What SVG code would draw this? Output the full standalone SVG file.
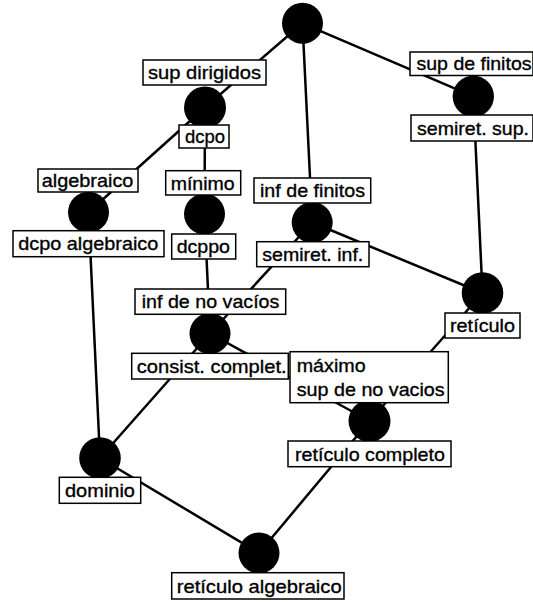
<svg xmlns="http://www.w3.org/2000/svg" width="533" height="602" viewBox="0 0 533 602">
  <style>
    .edge { stroke: #000; stroke-width: 2.5; fill: none; stroke-linecap: round; }
    .dot { fill: #000; }
    .box { fill: #fff; stroke: #000; stroke-width: 1.5; }
    .lbl { font-family: "Liberation Sans", Arial, sans-serif; font-size: 19px; fill: #000; stroke: #000; stroke-width: 0.35; }
  </style>
  <rect width="533" height="602" fill="#fff"/>

  <!-- connectors between node centres -->
  <g id="connectors">
    <line class="edge" x1="302.5" y1="23.3" x2="205" y2="107.5"/>
    <line class="edge" x1="302.5" y1="23.3" x2="312.2" y2="222.5"/>
    <line class="edge" x1="302.5" y1="23.3" x2="473.3" y2="96.3"/>
    <line class="edge" x1="205" y1="107.5" x2="88.5" y2="212.3"/>
    <line class="edge" x1="205" y1="107.5" x2="204.5" y2="214"/>
    <line class="edge" x1="473.3" y1="96.3" x2="482.5" y2="293"/>
    <line class="edge" x1="312.2" y1="222.5" x2="482.5" y2="293"/>
    <line class="edge" x1="312.2" y1="222.5" x2="210" y2="333.5"/>
    <line class="edge" x1="88.5" y1="212.3" x2="100" y2="458"/>
    <line class="edge" x1="204.5" y1="214" x2="210" y2="333.5"/>
    <line class="edge" x1="210" y1="333.5" x2="100" y2="458"/>
    <line class="edge" x1="210" y1="333.5" x2="369.5" y2="421"/>
    <line class="edge" x1="482.5" y1="293" x2="369.5" y2="421"/>
    <line class="edge" x1="100" y1="458" x2="259" y2="553"/>
    <line class="edge" x1="369.5" y1="421" x2="259" y2="553"/>
  </g>

  <g id="top">
    <circle class="dot" cx="302.5" cy="23.3" r="20.5"/>
  </g>

  <g id="dcpo">
    <circle class="dot" cx="205" cy="107.5" r="21"/>
    <rect class="box" x="143" y="60" width="123" height="25"/>
    <text class="lbl" x="148" y="79" textLength="113" lengthAdjust="spacingAndGlyphs">sup dirigidos</text>
    <rect class="box" x="179" y="125" width="50" height="23"/>
    <text class="lbl" x="185" y="143" textLength="40" lengthAdjust="spacingAndGlyphs">dcpo</text>
  </g>

  <g id="semiret-sup">
    <circle class="dot" cx="473.3" cy="96.3" r="20.7"/>
    <rect class="box" x="410" y="52" width="123" height="23.5"/>
    <text class="lbl" x="416.5" y="70.3" textLength="115" lengthAdjust="spacingAndGlyphs">sup de finitos</text>
    <rect class="box" x="411" y="115" width="122" height="26"/>
    <text class="lbl" x="417" y="134.7" textLength="112" lengthAdjust="spacingAndGlyphs">semiret. sup.</text>
  </g>

  <g id="dcpo-algebraico">
    <circle class="dot" cx="88.5" cy="212.3" r="20.5"/>
    <rect class="box" x="38" y="169" width="100" height="23"/>
    <text class="lbl" x="41.7" y="187" textLength="91.7" lengthAdjust="spacingAndGlyphs">algebraico</text>
    <rect class="box" x="13" y="230.7" width="151" height="26"/>
    <text class="lbl" x="18.3" y="250.4" textLength="140" lengthAdjust="spacingAndGlyphs">dcpo algebraico</text>
  </g>

  <g id="dcppo">
    <circle class="dot" cx="204.5" cy="214" r="20.5"/>
    <rect class="box" x="165.7" y="170.7" width="75" height="24.3"/>
    <text class="lbl" x="170.7" y="189.5" textLength="64" lengthAdjust="spacingAndGlyphs">mínimo</text>
    <rect class="box" x="171.7" y="234" width="64" height="25"/>
    <text class="lbl" x="176.7" y="253.2" textLength="53.3" lengthAdjust="spacingAndGlyphs">dcppo</text>
  </g>

  <g id="semiret-inf">
    <circle class="dot" cx="312.2" cy="222.5" r="20.5"/>
    <rect class="box" x="254" y="178" width="116.7" height="25"/>
    <text class="lbl" x="260" y="197.2" textLength="105" lengthAdjust="spacingAndGlyphs">inf de finitos</text>
    <rect class="box" x="256.7" y="241.7" width="112.3" height="25"/>
    <text class="lbl" x="262.3" y="260.9" textLength="101" lengthAdjust="spacingAndGlyphs">semiret. inf.</text>
  </g>

  <g id="reticulo">
    <circle class="dot" cx="482.5" cy="293" r="20.8"/>
    <rect class="box" x="445" y="313" width="75" height="25"/>
    <text class="lbl" x="450" y="332.2" textLength="65" lengthAdjust="spacingAndGlyphs">retículo</text>
  </g>

  <g id="consist-complet">
    <circle class="dot" cx="210" cy="333.5" r="20.5"/>
    <rect class="box" x="135" y="289" width="150.7" height="25.3"/>
    <text class="lbl" x="141.7" y="308.4" textLength="137.7" lengthAdjust="spacingAndGlyphs">inf de no vacíos</text>
    <rect class="box" x="131.7" y="353.3" width="156.6" height="25.7"/>
    <text class="lbl" x="136.7" y="373" textLength="150" lengthAdjust="spacingAndGlyphs">consist. complet.</text>
  </g>

  <g id="reticulo-completo">
    <circle class="dot" cx="369.5" cy="421" r="21"/>
    <rect class="box" x="290" y="351.7" width="158.3" height="51"/>
    <text class="lbl" x="296.7" y="372" textLength="69" lengthAdjust="spacingAndGlyphs">máximo</text>
    <text class="lbl" x="296.7" y="395.5" textLength="148" lengthAdjust="spacingAndGlyphs">sup de no vacios</text>
    <rect class="box" x="288" y="441" width="163" height="25.7"/>
    <text class="lbl" x="295" y="460.6" textLength="150" lengthAdjust="spacingAndGlyphs">retículo completo</text>
  </g>

  <g id="dominio">
    <circle class="dot" cx="100" cy="458" r="20.8"/>
    <rect class="box" x="59.3" y="477.3" width="81.4" height="26"/>
    <text class="lbl" x="65" y="497" textLength="70" lengthAdjust="spacingAndGlyphs">dominio</text>
  </g>

  <g id="reticulo-algebraico">
    <circle class="dot" cx="259" cy="553" r="20.5"/>
    <rect class="box" x="171.7" y="572.7" width="172.3" height="26.3"/>
    <text class="lbl" x="176.7" y="592.5" textLength="165" lengthAdjust="spacingAndGlyphs">retículo algebraico</text>
  </g>
</svg>
